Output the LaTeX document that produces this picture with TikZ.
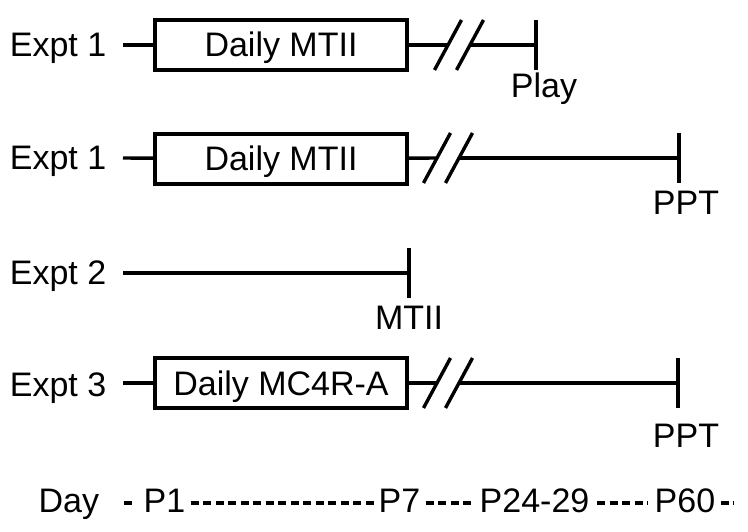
\documentclass[tikz,border=0pt]{standalone}
\usepackage{fontspec}
\setmainfont{Liberation Sans}
\newcommand\figfont{\fontsize{34}{41}\selectfont}
\tikzset{
  exptbox/.style={draw, minimum width=252pt, minimum height=50pt, inner sep=0pt,
    text height=24pt, text depth=0pt},
  daydash/.style={line width=3.5pt, dash pattern=on 8pt off 4.5pt},
}

\begin{document}
\begin{tikzpicture}[x=1pt,y=-1pt,line width=3.4pt,font=\figfont]
  \useasboundingbox (0,0) rectangle (748,532);

  % row labels
  \begin{scope}[every node/.style={anchor=base east,inner sep=0pt}]
    \node (e1) at (108,57)  {Expt 1};
    \node (e2) at (108,170) {Expt 1};
    \node (e3) at (108,284) {Expt 2};
    \node (e4) at (108,396) {Expt 3};
  \end{scope}

  % starts, breaks and ends
  \coordinate (s1) at (123,45);
  \coordinate (s2) at (123,158);
  \coordinate (s3) at (123,273);
  \coordinate (s4) at (123,383);
  \coordinate (c1) at (448,45);
  \coordinate (d1) at (470,45);
  \coordinate (c2) at (437,158);
  \coordinate (d2) at (459,158);
  \coordinate (c4) at (437,383);
  \coordinate (d4) at (459,383);
  \coordinate (t1) at (536,45);
  \coordinate (t2) at (679,158);
  \coordinate (t3) at (409,273);
  \coordinate (t4) at (678,383);

  % treatment boxes
  \node[exptbox] (b1) at (281,45)  {Daily MTII};
  \node[exptbox] (b2) at (281,159) {Daily MTII};
  \node[exptbox] (b4) at (281,383) {Daily MC4R-A};

  \begin{scope}[every edge/.style={draw}]
    \path (s1) edge (b1);
    \path (b1) edge (c1);
    \path (d1) edge (t1);
    \path (s2) edge (b2);
    \path (b2) edge (c2);
    \path (d2) edge (t2);
    \path (s3) edge (t3);
    \path (s4) edge (b4);
    \path (b4) edge (c4);
    \path (d4) edge (t4);
  \end{scope}

  % breaks
  \foreach \c in {c1,d1,c2,d2,c4,d4}
    \draw (\c) ++(-13.5,25) -- ++(27,-50);

  % end ticks
  \foreach \t in {t1,t2,t3,t4}
    \draw (\t) ++(0,-25) -- ++(0,50);

  % end labels
  \begin{scope}[every node/.style={anchor=base,inner sep=0pt}]
    \node (l1) at (544,98)  {Play};
    \node (l2) at (686,215) {PPT};
    \node (l3) at (409,330) {MTII};
    \node (l4) at (686,447) {PPT};
  \end{scope}

  % day axis
  \begin{scope}[every node/.style={anchor=base west,inner sep=0pt}]
    \node (day) at (37,512)  {Day};
    \node (p1)  at (142,512) {P1};
    \node (p7)  at (377,512) {P7};
    \node (p24) at (478,512) {P24-29};
    \node (p60) at (653,512) {P60};
  \end{scope}
  \coordinate (a0) at (124,503);
  \coordinate (a9) at (734,503);

  \begin{scope}[daydash]
    \draw (a0) -- ([xshift=-6pt,yshift=9pt]p1.base west);
    \draw ([xshift=4pt,yshift=9pt]p1.base east) -- ([xshift=-2pt,yshift=9pt]p7.base west);
    \draw ([xshift=4pt,yshift=9pt]p7.base east) -- ([xshift=-6pt,yshift=9pt]p24.base west);
    \draw ([xshift=6pt,yshift=9pt]p24.base east) -- ([xshift=-5pt,yshift=9pt]p60.base west);
    \draw ([xshift=4pt,yshift=9pt]p60.base east) -- (a9);
  \end{scope}

\end{tikzpicture}
\end{document}
